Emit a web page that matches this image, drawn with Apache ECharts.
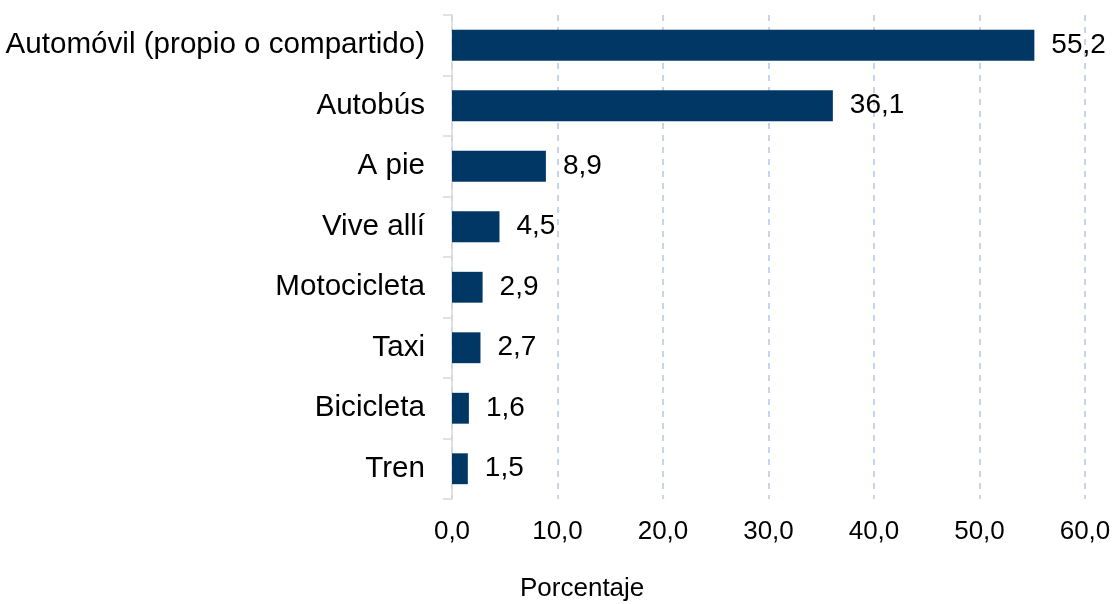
<!DOCTYPE html>
<html>
<head>
<meta charset="utf-8">
<script src="https://cdn.jsdelivr.net/npm/echarts@6/dist/echarts.min.js"></script>
<style>
  html, body { margin: 0; padding: 0; background: #fff; }
  #main { width: 1114px; height: 604px; }
</style>
</head>
<body>
<div id="main"></div>
<script>
var categories = ['Automóvil (propio o compartido)', 'Autobús', 'A pie', 'Vive allí', 'Motocicleta', 'Taxi', 'Bicicleta', 'Tren'];
var values = [55.2, 36.1, 8.9, 4.5, 2.9, 2.7, 1.6, 1.5];
var axisTitle = 'Porcentaje';

function fmt(v) {
    return v.toFixed(1).replace('.', ',');
}

var chart = echarts.init(document.getElementById('main'));
chart.setOption({
    animation: false,
    textStyle: { fontFamily: 'Liberation Sans, Arial, sans-serif' },
    grid: { left: 452, right: 29, top: 15, bottom: 105 },
    graphic: [{
        type: 'text',
        left: 584 - 64,
        top: 576,
        style: {
            text: axisTitle,
            fill: '#000',
            font: '26px "Liberation Sans", Arial, sans-serif'
        }
    }],
    xAxis: {
        type: 'value',
        min: 0,
        max: 60,
        interval: 10,
        axisLine: { show: false },
        axisTick: { show: false },
        axisLabel: {
            color: '#000',
            fontSize: 26,
            margin: 20,
            formatter: function (v) { return fmt(v); }
        },
        splitLine: {
            show: true,
            lineStyle: { color: '#b4c7e7', type: [6, 6], width: 1.5 }
        }
    },
    yAxis: {
        type: 'category',
        inverse: true,
        data: categories,
        axisLine: { show: true, lineStyle: { color: '#d9d9d9', width: 1.5 } },
        axisTick: { show: true, length: 9, lineStyle: { color: '#d9d9d9', width: 1.5 } },
        axisLabel: { color: '#000', fontSize: 29.6, margin: 27, padding: [3, 0, 0, 0] }
    },
    series: [{
        type: 'bar',
        data: values,
        barWidth: '51%',
        itemStyle: { color: '#003764' },
        label: {
            show: true,
            position: 'right',
            distance: 17,
            color: '#000',
            fontSize: 28,
            formatter: function (p) { return fmt(p.value); }
        }
    }]
});
</script>
</body>
</html>
